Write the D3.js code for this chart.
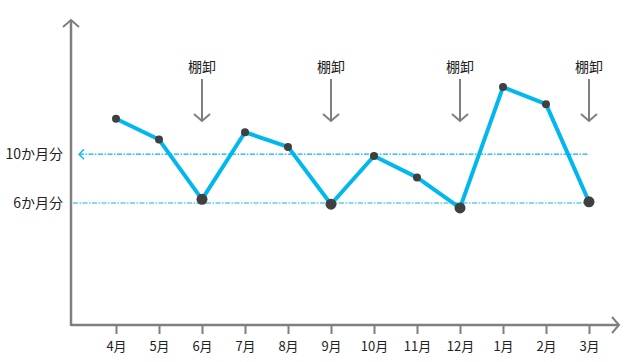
<!DOCTYPE html>
<html>
<head>
<meta charset="utf-8">
<script src="https://cdn.jsdelivr.net/npm/d3@7"></script>
<style>
  body { margin: 0; background: #fff; }
  text { font-family: "Noto Sans CJK JP", "Noto Sans", sans-serif; fill: #222; }
</style>
</head>
<body>
<div id="chart"></div>
<script>
// data
const months = ["4月", "5月", "6月", "7月", "8月", "9月", "10月", "11月", "12月", "1月", "2月", "3月"];
const stock = [12.9, 11.2, 6.3, 11.8, 10.6, 5.9, 9.85, 8.1, 5.6, 15.5, 14.1, 6.1];
const inventoryMonths = ["6月", "9月", "12月", "3月"];
const refValues = [10, 6];
const refLabels = ["10か月分", "6か月分"];

const width = 640, height = 362;
const axisColor = "#7f7f7f";
const lineColor = "#00b8ee";
const dotColor = "#404040";

const svg = d3.select("#chart").append("svg")
    .attr("width", width)
    .attr("height", height);

// tick positions
const x = d3.scalePoint()
    .domain(months)
    .range([116, 589]);

const y = d3.scaleLinear()
    .domain([-4, 21])
    .range([325, 20]);

// arrow markers
const defs = svg.append("defs");
defs.append("marker")
    .attr("id", "chev")
    .attr("viewBox", "-10 -10 20 20")
    .attr("markerUnits", "userSpaceOnUse")
    .attr("markerWidth", 20)
    .attr("markerHeight", 20)
    .attr("orient", "auto")
    .append("path")
    .attr("d", "M-7,-8L0,0L-7,8")
    .attr("fill", "none")
    .attr("stroke", axisColor)
    .attr("stroke-width", 2);

defs.append("marker")
    .attr("id", "chevSmall")
    .attr("viewBox", "-10 -10 20 20")
    .attr("markerUnits", "userSpaceOnUse")
    .attr("markerWidth", 20)
    .attr("markerHeight", 20)
    .attr("orient", "auto-start-reverse")
    .append("path")
    .attr("d", "M-5,-5L0,0L-5,5")
    .attr("fill", "none")
    .attr("stroke", lineColor)
    .attr("stroke-width", 1.3);

// x axis ticks below the line
const xAxis = svg.append("g")
    .attr("transform", "translate(0," + y.range()[0] + ")")
    .call(d3.axisBottom(x).tickSize(9).tickPadding(8));
xAxis.select(".domain").remove();
xAxis.selectAll(".tick line").attr("stroke", axisColor).attr("stroke-width", 2);
xAxis.selectAll(".tick text")
    .style("font-size", "13px")
    .attr("fill", "#222");

// axis lines
svg.append("line")
    .attr("x1", 71).attr("y1", y.range()[0])
    .attr("x2", 619).attr("y2", y.range()[0])
    .attr("stroke", axisColor)
    .attr("stroke-width", 2.5)
    .attr("marker-end", "url(#chev)");

svg.append("line")
    .attr("x1", 71).attr("y1", y.range()[0] + 1)
    .attr("x2", 71).attr("y2", y.range()[1])
    .attr("stroke", axisColor)
    .attr("stroke-width", 2.5)
    .attr("marker-end", "url(#chev)");

// reference lines
refValues.forEach(function (v, i) {
    svg.append("line")
        .attr("x1", i === 0 ? 79 : 73)
        .attr("y1", y(v))
        .attr("x2", x("3月"))
        .attr("y2", y(v))
        .attr("stroke", lineColor)
        .attr("stroke-width", 1.2)
        .attr("stroke-dasharray", "5,1.5,1.5,1.5")
        .attr("marker-start", i === 0 ? "url(#chevSmall)" : null);
    svg.append("text")
        .attr("x", 63)
        .attr("y", y(v))
        .attr("dy", "0.35em")
        .attr("text-anchor", "end")
        .style("font-size", "14px")
        .text(refLabels[i]);
});

// inventory arrows
inventoryMonths.forEach(function (m) {
    svg.append("text")
        .attr("x", x(m))
        .attr("y", 67)
        .attr("dy", "0.35em")
        .attr("text-anchor", "middle")
        .style("font-size", "14px")
        .text("棚卸");
    svg.append("line")
        .attr("x1", x(m)).attr("y1", 79)
        .attr("x2", x(m)).attr("y2", 121)
        .attr("stroke", axisColor)
        .attr("stroke-width", 2)
        .attr("marker-end", "url(#chev)");
});

// series line
const line = d3.line()
    .x(function (d, i) { return x(months[i]); })
    .y(function (d) { return y(d); });

svg.append("path")
    .datum(stock)
    .attr("d", line)
    .attr("fill", "none")
    .attr("stroke", lineColor)
    .attr("stroke-width", 4)
    .attr("stroke-linejoin", "round");

svg.selectAll(".dot")
    .data(stock)
    .enter().append("circle")
    .attr("class", "dot")
    .attr("cx", function (d, i) { return x(months[i]); })
    .attr("cy", function (d) { return y(d); })
    .attr("r", function (d, i) { return inventoryMonths.indexOf(months[i]) >= 0 ? 5.5 : 4; })
    .attr("fill", dotColor);
</script>
</body>
</html>
